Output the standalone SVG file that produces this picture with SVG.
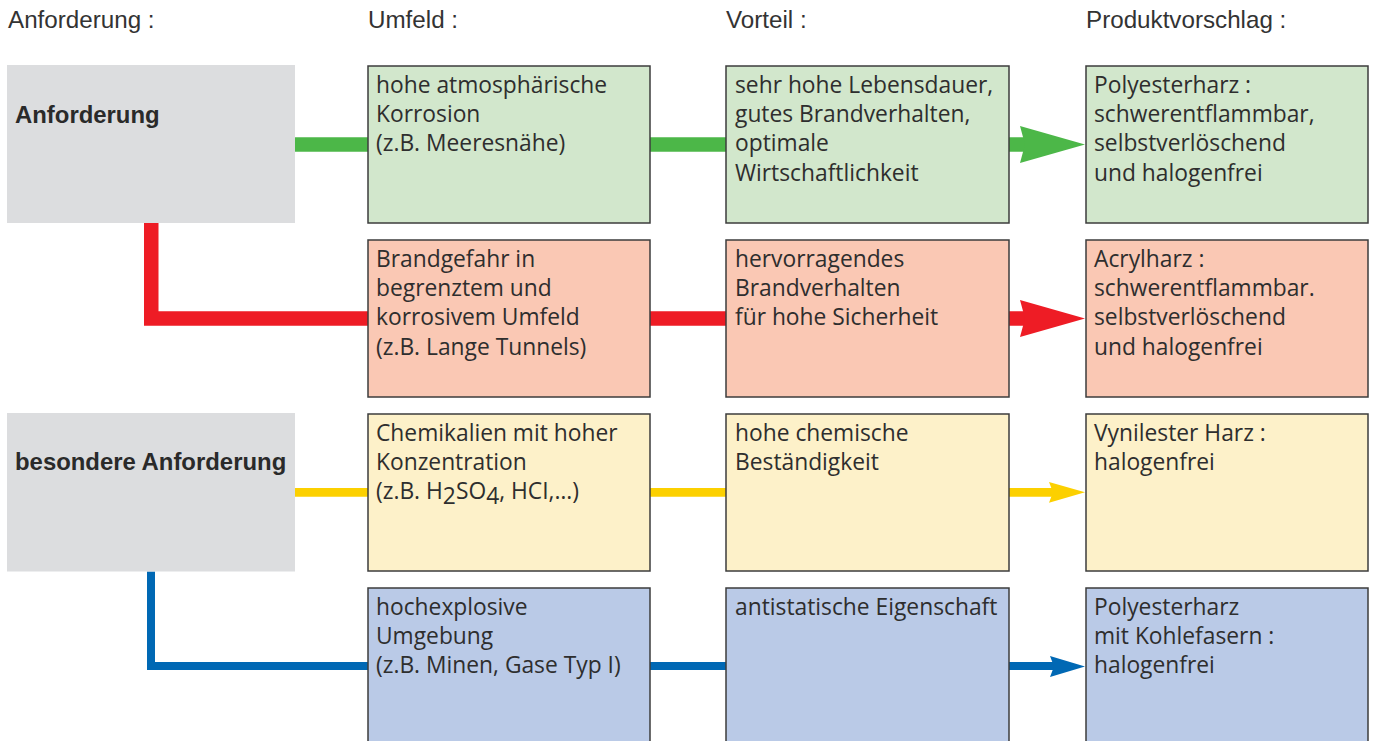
<svg xmlns="http://www.w3.org/2000/svg" width="1374" height="741" viewBox="0 0 1374 741">
<style>
.hdr{font-family:"Liberation Sans",Arial,sans-serif;font-size:24.2px;fill:#333333}
.lbl{font-family:"Liberation Sans",Arial,sans-serif;font-size:23.9px;font-weight:bold;fill:#2a2a2a}
.t{font-family:"Open Sans","Noto Sans",sans-serif;font-size:22.8px;fill:#2e2e2e}
.gray{fill:#dcdddf}
.box{stroke:#3c3c3c;stroke-width:1.5}
.g{fill:#d2e7cc}
.r{fill:#fac8b4}
.y{fill:#fdf1c9}
.b{fill:#bacae7}
.ln{fill:none;stroke-linejoin:miter;stroke-linecap:butt}
</style>

<g id="headers">
<text class="hdr" x="8" y="28">Anforderung :</text>
<text class="hdr" x="368" y="28">Umfeld :</text>
<text class="hdr" x="726" y="28">Vorteil :</text>
<text class="hdr" x="1086" y="28">Produktvorschlag :</text>
</g>

<g id="connectors">
<path class="ln" d="M295 144.5 H1025" stroke="#4cb748" stroke-width="14.4"/>
<polygon points="1020,126 1085,144.5 1020,163 1025,144.5" fill="#4cb748"/>
<path class="ln" d="M151.25 223 V318.5 H1025" stroke="#ee1c25" stroke-width="14.5"/>
<polygon points="1020,300 1085,318.5 1020,337 1025,318.5" fill="#ee1c25"/>
<path class="ln" d="M295 492.3 H1053" stroke="#fcd000" stroke-width="8.7"/>
<polygon points="1049,482 1085,492.3 1049,502.7 1053,492.3" fill="#fcd000"/>
<path class="ln" d="M151 571.5 V666 H1054" stroke="#0068b4" stroke-width="8"/>
<polygon points="1050,656 1085,666.5 1050,677 1054,666.5" fill="#0068b4"/>
</g>

<g id="req1">
<rect class="gray" x="7" y="65" width="288" height="158"/>
<text class="lbl" x="15" y="123">Anforderung</text>
</g>
<g id="req2">
<rect class="gray" x="7" y="413" width="288" height="158.5"/>
<text class="lbl" x="15" y="470">besondere Anforderung</text>
</g>

<g id="umfeld1">
<rect class="box g" x="368" y="66" width="282" height="157"/>
<text class="t" x="376" y="93"><tspan x="376">hohe atmosphärische</tspan><tspan x="376" dy="29.2">Korrosion</tspan><tspan x="376" dy="29.2">(z.B. Meeresnähe)</tspan></text>
</g>
<g id="vorteil1">
<rect class="box g" x="726" y="66" width="283" height="157"/>
<text class="t" x="735" y="93"><tspan x="735">sehr hohe Lebensdauer,</tspan><tspan x="735" dy="29.2">gutes Brandverhalten,</tspan><tspan x="735" dy="29.2">optimale</tspan><tspan x="735" dy="29.2">Wirtschaftlichkeit</tspan></text>
</g>
<g id="produkt1">
<rect class="box g" x="1086" y="66" width="282" height="157"/>
<text class="t" x="1094" y="93"><tspan x="1094">Polyesterharz :</tspan><tspan x="1094" dy="29.2">schwerentflammbar,</tspan><tspan x="1094" dy="29.2">selbstverlöschend</tspan><tspan x="1094" dy="29.2">und halogenfrei</tspan></text>
</g>

<g id="umfeld2">
<rect class="box r" x="368" y="240" width="282" height="157"/>
<text class="t" x="376" y="267"><tspan x="376">Brandgefahr in</tspan><tspan x="376" dy="29.2">begrenztem und</tspan><tspan x="376" dy="29.2">korrosivem Umfeld</tspan><tspan x="376" dy="29.2">(z.B. Lange Tunnels)</tspan></text>
</g>
<g id="vorteil2">
<rect class="box r" x="726" y="240" width="283" height="157"/>
<text class="t" x="735" y="267"><tspan x="735">hervorragendes</tspan><tspan x="735" dy="29.2">Brandverhalten</tspan><tspan x="735" dy="29.2">für hohe Sicherheit</tspan></text>
</g>
<g id="produkt2">
<rect class="box r" x="1086" y="240" width="282" height="157"/>
<text class="t" x="1094" y="267"><tspan x="1094">Acrylharz :</tspan><tspan x="1094" dy="29.2">schwerentflammbar.</tspan><tspan x="1094" dy="29.2">selbstverlöschend</tspan><tspan x="1094" dy="29.2">und halogenfrei</tspan></text>
</g>

<g id="umfeld3">
<rect class="box y" x="368" y="414" width="282" height="157"/>
<text class="t" x="376" y="441"><tspan x="376">Chemikalien mit hoher</tspan><tspan x="376" dy="29.2">Konzentration</tspan><tspan x="376" dy="29.2">(z.B. H</tspan><tspan dy="5">2</tspan><tspan dy="-5">SO</tspan><tspan dy="5">4</tspan><tspan dy="-5">, HCI,…)</tspan></text>
</g>
<g id="vorteil3">
<rect class="box y" x="726" y="414" width="283" height="157"/>
<text class="t" x="735" y="441"><tspan x="735">hohe chemische</tspan><tspan x="735" dy="29.2">Beständigkeit</tspan></text>
</g>
<g id="produkt3">
<rect class="box y" x="1086" y="414" width="282" height="157"/>
<text class="t" x="1094" y="441"><tspan x="1094">Vynilester Harz :</tspan><tspan x="1094" dy="29.2">halogenfrei</tspan></text>
</g>

<g id="umfeld4">
<rect class="box b" x="368" y="588" width="282" height="170"/>
<text class="t" x="376" y="615"><tspan x="376">hochexplosive</tspan><tspan x="376" dy="29.2">Umgebung</tspan><tspan x="376" dy="29.2">(z.B. Minen, Gase Typ I)</tspan></text>
</g>
<g id="vorteil4">
<rect class="box b" x="726" y="588" width="283" height="170"/>
<text class="t" x="735" y="615">antistatische Eigenschaft</text>
</g>
<g id="produkt4">
<rect class="box b" x="1086" y="588" width="282" height="170"/>
<text class="t" x="1094" y="615"><tspan x="1094">Polyesterharz</tspan><tspan x="1094" dy="29.2">mit Kohlefasern :</tspan><tspan x="1094" dy="29.2">halogenfrei</tspan></text>
</g>
</svg>
